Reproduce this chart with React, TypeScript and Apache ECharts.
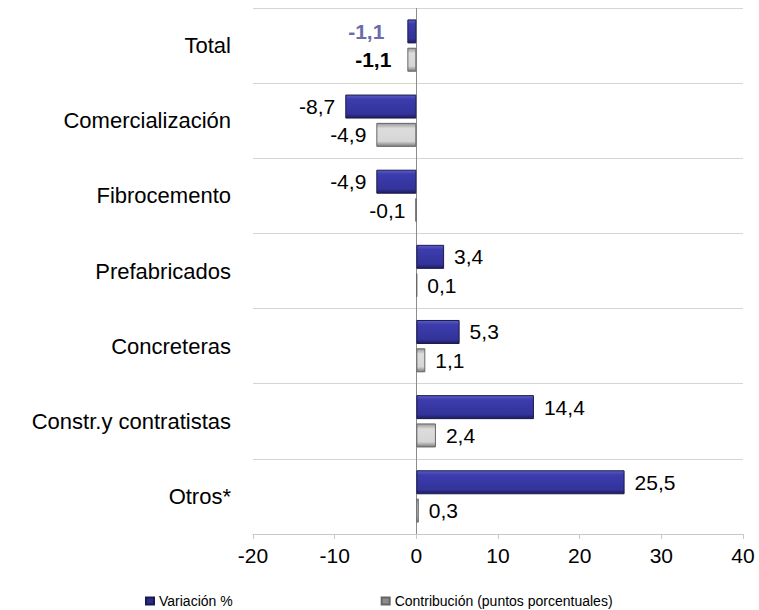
import React, { useEffect, useRef } from "react";
import * as echarts from "echarts";

const categories = [
  "Total",
  "Comercialización",
  "Fibrocemento",
  "Prefabricados",
  "Concreteras",
  "Constr.y contratistas",
  "Otros*",
];
const variacion = [-1.1, -8.7, -4.9, 3.4, 5.3, 14.4, 25.5];
const contribucion = [-1.1, -4.9, -0.1, 0.1, 1.1, 2.4, 0.3];
const seriesNames = ["Variación %", "Contribución (puntos porcentuales)"];

const FONT = "'Liberation Sans', Arial, sans-serif";

const fmt = (v: number) => String(v).replace(".", ",");

const blueGrad = new echarts.graphic.LinearGradient(0, 0, 0, 1, [
  { offset: 0, color: "#5c5cc8" },
  { offset: 0.18, color: "#3c3cae" },
  { offset: 0.82, color: "#33339a" },
  { offset: 1, color: "#1c1c60" },
]);
const grayGrad = new echarts.graphic.LinearGradient(0, 0, 0, 1, [
  { offset: 0, color: "#9a9a9a" },
  { offset: 0.22, color: "#dcdcdc" },
  { offset: 0.78, color: "#d6d6d6" },
  { offset: 1, color: "#7a7a7a" },
]);

function buildData(values: number[], isBlue: boolean) {
  return values.map((v, i) => {
    const item: any = {
      value: v,
      label: {
        position: v < 0 ? "left" : "right",
      },
    };
    if (i === 0) {
      item.label = {
        position: "left",
        distance: isBlue ? 23 : 16,
        fontWeight: "bold",
        color: isBlue ? "#6b6bab" : "#000000",
      };
    }
    return item;
  });
}

export default function App() {
  const ref = useRef<HTMLDivElement>(null);
  useEffect(() => {
    if (!ref.current) return;
    const chart = echarts.init(ref.current, null, { renderer: "svg" });
    const labelBase = {
      show: true,
      distance: 10,
      fontFamily: FONT,
      fontSize: 21,
      color: "#000000",
      formatter: (p: any) => fmt(p.value),
    };
    chart.setOption({
      animation: false,
      backgroundColor: "#ffffff",
      textStyle: { fontFamily: FONT },
      grid: { left: 253, right: 16, top: 8, bottom: 76, containLabel: false },
      legend: {
        left: 140,
        top: 588,
        itemWidth: 8,
        itemHeight: 7,
        itemGap: 148,
        textStyle: { fontFamily: FONT, fontSize: 14, color: "#000000", lineHeight: 16 },
        data: [
          { name: seriesNames[0], icon: "rect", itemStyle: { color: "#2b2b8f" } },
          { name: seriesNames[1], icon: "rect", itemStyle: { color: "#8c8c8c" } },
        ],
      },
      xAxis: {
        type: "value",
        min: -20,
        max: 40,
        interval: 10,
        axisLine: { show: true, lineStyle: { color: "#c8c8c8" } },
        axisTick: { show: true, length: 5, lineStyle: { color: "#c8c8c8" } },
        axisLabel: {
          fontFamily: FONT,
          fontSize: 21,
          color: "#000000",
          margin: 11,
        },
        splitLine: {
          show: true,
          lineStyle: {
            color: [
              "transparent",
              "transparent",
              "#8c8c8c",
              "transparent",
              "transparent",
              "transparent",
              "transparent",
            ],
          },
        },
      },
      yAxis: {
        type: "category",
        inverse: true,
        data: categories,
        axisLine: { show: false },
        axisTick: { show: false },
        axisLabel: {
          fontFamily: FONT,
          fontSize: 22,
          color: "#000000",
          margin: 22,
        },
        splitLine: { show: true, lineStyle: { color: "#d4d4d4" } },
      },
      series: [
        {
          name: seriesNames[0],
          type: "bar",
          barWidth: 24,
          barGap: "18%",
          data: buildData(variacion, true),
          itemStyle: { color: blueGrad, borderColor: "#1a1a4a", borderWidth: 1 },
          label: labelBase,
        },
        {
          name: seriesNames[1],
          type: "bar",
          barWidth: 24,
          barGap: "18%",
          data: buildData(contribucion, false),
          itemStyle: { color: grayGrad, borderColor: "#666666", borderWidth: 1 },
          label: labelBase,
        },
      ],
    });
    return () => chart.dispose();
  }, []);
  return (
    <div
      ref={ref}
      style={{ position: "fixed", left: 0, top: 0, width: 759, height: 610 }}
    />
  );
}
